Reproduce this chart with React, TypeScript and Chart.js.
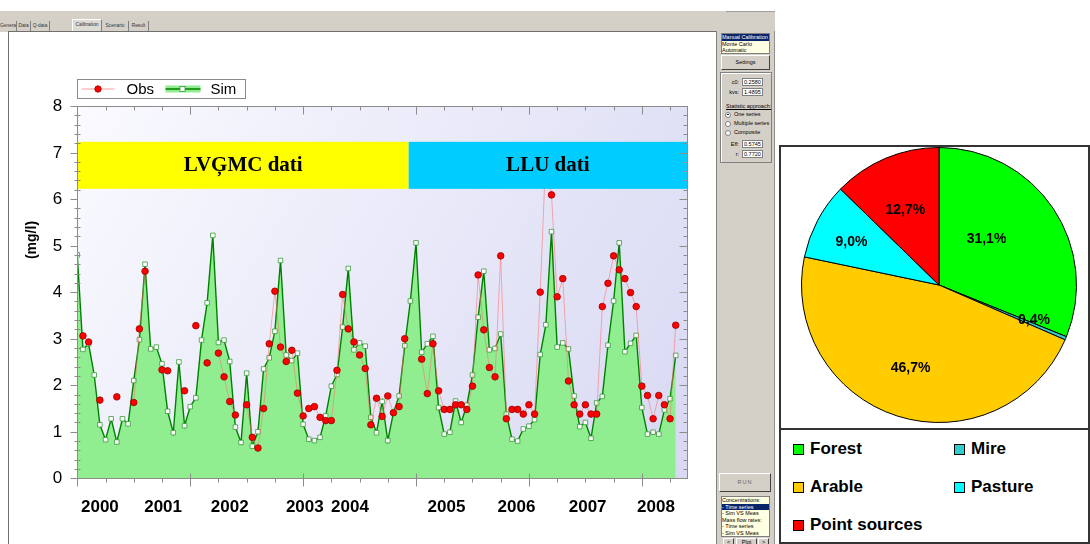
import React, { useEffect, useRef } from 'react';
import { Chart, registerables } from 'chart.js';

Chart.register(...registerables);

// ---------- data ----------
const simValues = [
  4.80, 2.77, 2.89, 2.22, 1.15, 0.83, 1.28, 0.78, 1.28, 1.17,
  2.10, 2.98, 4.60, 2.78, 2.82, 2.46, 1.44, 0.98, 2.50, 1.13,
  1.54, 1.73, 2.97, 3.77, 5.22, 2.92, 2.97, 2.51, 1.10, 0.77,
  2.26, 0.69, 1.00, 2.35, 2.59, 3.16, 4.68, 2.65, 2.53, 2.69,
  1.16, 0.84, 0.81, 0.88, 1.34, 1.98, 2.23, 3.25, 4.51, 2.76,
  2.91, 2.84, 1.31, 0.98, 1.65, 0.81, 1.41, 1.77, 2.85, 3.81,
  5.06, 2.71, 2.89, 3.05, 1.52, 0.95, 0.99, 1.66, 1.20, 1.57,
  2.22, 3.46, 4.45, 2.76, 2.79, 3.10, 1.38, 0.84, 0.80, 1.06,
  1.12, 1.26, 2.66, 3.30, 5.30, 2.82, 2.91, 2.78, 1.77, 1.11,
  1.20, 0.86, 1.62, 1.76, 2.86, 3.81, 5.06, 2.72, 2.90, 3.07,
  1.52, 0.95, 0.99, 0.95, 1.47, 1.71, 2.64,
];

const obsValues: (number | null)[] = [
  null, 3.06, 2.93, null, 1.68, null, null, 1.75, null, null,
  1.63, 3.21, 4.45, null, null, 2.33, 2.31, null, null, 1.88,
  null, 3.28, null, 2.48, null, 2.69, 2.18, 1.65, 1.36, null,
  1.58, 0.88, 0.65, 1.50, 2.89, 4.02, 2.82, 2.51, 2.75, 1.83,
  1.34, 1.50, 1.54, 1.31, 1.24, 1.24, 2.32, 3.95, 3.21, 2.93,
  2.65, 2.36, 1.15, 1.72, 1.33, 1.77, 1.41, 1.54, 3.00, null,
  null, 2.56, 1.82, 2.89, 1.88, 1.48, 1.48, 1.58, 1.58, 1.48,
  1.98, 4.37, 3.19, 2.38, 2.18, 4.78, 1.28, 1.48, 1.48, 1.38,
  1.58, 1.38, 4.00, 7.00, 6.09, 3.90, 4.29, 2.09, 1.58, 1.38,
  1.58, 1.38, 1.38, 3.69, 4.19, 4.78, 4.48, 4.29, 3.99, 3.69,
  1.98, 1.78, 1.28, 1.78, 1.58, 1.28, 3.29,
];

const monthIndex = simValues.map((_, i) => i);

const yTickLabels = ['0', '1', '2', '3', '4', '5', '6', '7', '8'];
const yearLabels = ['2000', '2001', '2002', '2003', '2004', '2005', '2006', '2007', '2008'];
const yearLabelPos = [4.0, 15.2, 27.0, 40.3, 48.3, 65.4, 77.8, 90.4, 102.5];

const sourceNames = ['LVĢMC dati', 'LLU dati'];
const sourceStart = [0.1, 58.7];
const sourceEnd = [58.7, 108];
const sourceColors = ['#ffff00', '#00ccff'];

const landUse = ['Forest', 'Mire', 'Arable', 'Pasture', 'Point sources'];
const landShare = [31.1, 0.4, 46.7, 9.0, 12.7];
const landColors = ['#00ff00', '#33cccc', '#ffcc00', '#00ffff', '#ff0000'];

// ---------- plugins ----------
const SANS = 'Arial, "Liberation Sans", sans-serif';
const SERIF = '"Times New Roman", "Liberation Serif", serif';

const decorPlugin = {
  id: 'decor',
  beforeDatasetsDraw(chart: any) {
    const { ctx, chartArea: a } = chart;
    const g = ctx.createLinearGradient(a.left, a.top, a.right, a.bottom);
    g.addColorStop(0, '#fafaff');
    g.addColorStop(1, '#d8d8f3');
    ctx.save();
    ctx.fillStyle = g;
    ctx.fillRect(a.left, a.top, a.right - a.left, a.bottom - a.top);
    ctx.restore();
  },
  afterDatasetsDraw(chart: any) {
    const { ctx, chartArea: a } = chart;
    const xs = chart.scales.x;
    const ys = chart.scales.y;
    const p = (v: number) => Math.round(v) + 0.5;
    const line = (x1: number, y1: number, x2: number, y2: number) => {
      ctx.beginPath();
      ctx.moveTo(x1, y1);
      ctx.lineTo(x2, y2);
      ctx.stroke();
    };
    ctx.save();

    // source bands
    const bTop = ys.getPixelForValue(7.23);
    const bBot = ys.getPixelForValue(6.22);
    sourceNames.forEach((name, k) => {
      const x0 = xs.getPixelForValue(sourceStart[k]);
      const x1 = xs.getPixelForValue(sourceEnd[k]);
      ctx.fillStyle = sourceColors[k];
      ctx.fillRect(x0, bTop, x1 - x0, bBot - bTop);
      ctx.fillStyle = '#000';
      ctx.font = `bold 21px ${SERIF}`;
      ctx.textAlign = 'center';
      ctx.textBaseline = 'middle';
      ctx.fillText(name, (x0 + x1) / 2, (bTop + bBot) / 2);
    });

    // frame
    const L = p(a.left), R = p(a.right), T = p(a.top), B = p(a.bottom);
    ctx.strokeStyle = '#8c8c8c';
    ctx.lineWidth = 1;
    ctx.strokeRect(L, T, R - L, B - T);

    // y ticks
    for (let k = 0; k <= 40; k++) {
      const y = p(ys.getPixelForValue(k * 0.2));
      const major = k % 5 === 0;
      if (major) {
        line(L - 7, y, L, y);
        line(R - 8, y, R, y);
      } else {
        line(L - 3, y, L + 3, y);
        line(R - 4, y, R, y);
      }
    }
    // x ticks
    for (let v = 0; v <= 105; v += 5) {
      const x = p(xs.getPixelForValue(v));
      const major = v % 20 === 0;
      if (major) {
        line(x, B - 5, x, B + 8);
        line(x, T, x, T + 8);
      } else {
        line(x, B, x, B + 4);
        line(x, T, x, T + 4);
      }
    }

    // y labels
    ctx.fillStyle = '#000';
    ctx.font = `17px ${SANS}`;
    ctx.textAlign = 'right';
    ctx.textBaseline = 'middle';
    yTickLabels.forEach((lab, i) => {
      ctx.fillText(lab, a.left - 15, ys.getPixelForValue(i) + 0.5);
    });

    // year labels
    ctx.font = `bold 17px ${SANS}`;
    ctx.textAlign = 'center';
    yearLabels.forEach((lab, i) => {
      ctx.fillText(lab, xs.getPixelForValue(yearLabelPos[i]), a.bottom + 29);
    });

    // y title
    ctx.save();
    ctx.translate(a.left - 45, a.top + 134);
    ctx.rotate(-Math.PI / 2);
    ctx.font = `bold 14px ${SANS}`;
    ctx.textAlign = 'center';
    ctx.textBaseline = 'middle';
    ctx.fillText('(mg/l)', 0, 0);
    ctx.restore();

    // legend box
    const lx = Math.round(a.left) + 0.5;
    const ly = Math.round(a.top) - 27 + 0.5;
    ctx.fillStyle = '#ffffff';
    ctx.fillRect(lx, ly, 168, 19);
    ctx.strokeStyle = '#8a8a8a';
    ctx.lineWidth = 1;
    ctx.strokeRect(lx, ly, 168, 19);
    const cy = ly + 9.5;
    const dsObs = chart.data.datasets[0];
    const dsSim = chart.data.datasets[1];
    ctx.strokeStyle = '#ff9c9c';
    line(lx + 4, cy, lx + 37, cy);
    ctx.beginPath();
    ctx.arc(lx + 20.5, cy, 3.2, 0, Math.PI * 2);
    ctx.fillStyle = '#ff0000';
    ctx.fill();
    ctx.strokeStyle = '#990000';
    ctx.lineWidth = 0.8;
    ctx.stroke();
    ctx.fillStyle = '#000';
    ctx.font = `15px ${SANS}`;
    ctx.textAlign = 'left';
    ctx.textBaseline = 'middle';
    ctx.fillText(dsObs.label, lx + 49, cy + 0.5);
    ctx.fillStyle = '#90ee90';
    ctx.fillRect(lx + 88, cy - 3.5, 35, 7);
    ctx.strokeStyle = '#008000';
    ctx.lineWidth = 1.5;
    line(lx + 88, cy, lx + 123, cy);
    ctx.fillStyle = '#ffffff';
    ctx.fillRect(lx + 102.5, cy - 2.5, 5, 5);
    ctx.strokeStyle = '#3a9a3a';
    ctx.lineWidth = 0.8;
    ctx.strokeRect(lx + 102.5, cy - 2.5, 5, 5);
    ctx.fillStyle = '#000';
    ctx.fillText(dsSim.label, lx + 133, cy + 0.5);

    ctx.restore();
  },
};

const pieLabelTweak = [
  { da: -10, rf: 0.48 },
  { da: -2.7, rf: 0.735 },
  { da: 1.2, rf: 0.64 },
  { da: -1.7, rf: 0.71 },
  { da: -1.2, rf: 0.6 },
];

const pieLabelPlugin = {
  id: 'pieLabels',
  afterDatasetsDraw(chart: any) {
    const meta = chart.getDatasetMeta(0);
    const ctx = chart.ctx;
    ctx.save();
    ctx.font = `bold 14px ${SANS}`;
    ctx.fillStyle = '#000';
    ctx.textAlign = 'center';
    ctx.textBaseline = 'middle';
    meta.data.forEach((arc: any, i: number) => {
      const pr = arc.getProps(['x', 'y', 'startAngle', 'endAngle', 'outerRadius'], true);
      const mid = (pr.startAngle + pr.endAngle) / 2 + (pieLabelTweak[i].da * Math.PI) / 180;
      const r = pr.outerRadius * pieLabelTweak[i].rf;
      const txt = landShare[i].toFixed(1).replace('.', ',') + '%';
      ctx.fillText(txt, pr.x + r * Math.cos(mid), pr.y + r * Math.sin(mid));
    });
    ctx.restore();
  },
};

// ---------- small UI helpers ----------
const tiny: React.CSSProperties = {
  position: 'absolute',
  fontFamily: SANS,
  fontSize: '5.5px',
  lineHeight: '6.5px',
  color: '#000',
  whiteSpace: 'nowrap',
};

const tabs = [
  { t: 'General', x: 0, w: 17 },
  { t: 'Data', x: 17, w: 14 },
  { t: 'Q-data', x: 31, w: 19 },
  { t: 'Calibration', x: 72, w: 30, active: true },
  { t: 'Scenario', x: 102, w: 27 },
  { t: 'Result', x: 129, w: 20 },
];

function Input({ top, value }: { top: number; value: string }) {
  return (
    <div
      style={{
        ...tiny,
        left: 742,
        top,
        width: 21,
        height: 8.5,
        background: '#fff',
        border: '1px solid #808080',
        boxSizing: 'border-box',
        paddingLeft: 1,
        lineHeight: '7px',
      }}
    >
      {value}
    </div>
  );
}

function Radio({ top, label, checked }: { top: number; label: string; checked?: boolean }) {
  return (
    <>
      <div
        style={{
          position: 'absolute',
          left: 725,
          top,
          width: 6,
          height: 6,
          borderRadius: '50%',
          background: '#fff',
          border: '1px solid #808080',
          boxSizing: 'border-box',
        }}
      >
        {checked ? (
          <div style={{ position: 'absolute', left: 1.2, top: 1.2, width: 1.8, height: 1.8, borderRadius: '50%', background: '#000' }} />
        ) : null}
      </div>
      <div style={{ ...tiny, left: 734, top: top - 0.5 }}>{label}</div>
    </>
  );
}

const btn: React.CSSProperties = {
  position: 'absolute',
  background: '#d4d0c8',
  borderTop: '1px solid #ffffff',
  borderLeft: '1px solid #ffffff',
  borderRight: '1px solid #404040',
  borderBottom: '1px solid #404040',
  boxSizing: 'border-box',
  fontFamily: SANS,
  fontSize: '5.5px',
  textAlign: 'center',
  color: '#000',
};

export default function App() {
  const mainRef = useRef<HTMLCanvasElement>(null);
  const pieRef = useRef<HTMLCanvasElement>(null);

  useEffect(() => {
    const main = new Chart(mainRef.current as HTMLCanvasElement, {
      type: 'line',
      data: {
        datasets: [
          {
            label: 'Obs',
            data: monthIndex.map((i) => ({ x: i, y: obsValues[i] })) as any,
            borderColor: 'rgba(255,110,110,0.55)',
            borderWidth: 1,
            pointRadius: 3.3,
            pointBackgroundColor: '#ff0000',
            pointBorderColor: '#990000',
            pointBorderWidth: 0.8,
            fill: false,
            spanGaps: false,
            order: 0,
          },
          {
            label: 'Sim',
            data: monthIndex.map((i) => ({ x: i, y: simValues[i] })),
            borderColor: '#008000',
            borderWidth: 1.4,
            backgroundColor: '#90ee90',
            fill: 'origin',
            pointStyle: 'rect',
            pointRadius: 3.2,
            pointBackgroundColor: '#ffffff',
            pointBorderColor: '#3a9a3a',
            pointBorderWidth: 0.8,
            order: 1,
          },
        ],
      },
      options: {
        animation: false,
        responsive: false,
        devicePixelRatio: 1,
        layout: { padding: { left: 68.3, right: 28, top: 74, bottom: 65.7 } },
        elements: { line: { tension: 0 } },
        scales: {
          x: { type: 'linear', min: 0, max: 108, display: false },
          y: { type: 'linear', min: 0, max: 8, display: false },
        },
        plugins: { legend: { display: false }, tooltip: { enabled: false } },
      },
      plugins: [decorPlugin],
    });

    const pie = new Chart(pieRef.current as HTMLCanvasElement, {
      type: 'pie',
      data: {
        labels: landUse,
        datasets: [
          {
            data: landShare,
            backgroundColor: landColors,
            borderColor: '#000000',
            borderWidth: 1,
          },
        ],
      },
      options: {
        animation: false,
        responsive: false,
        devicePixelRatio: 1,
        layout: { padding: 0 },
        plugins: { legend: { display: false }, tooltip: { enabled: false } },
      },
      plugins: [pieLabelPlugin],
    });

    return () => {
      main.destroy();
      pie.destroy();
    };
  }, []);

  const legendPos = [
    { x: 793, y: 449 },
    { x: 954, y: 449 },
    { x: 793, y: 487 },
    { x: 954, y: 487 },
    { x: 793, y: 525 },
  ];

  return (
    <div
      style={{
        position: 'absolute',
        left: 0,
        top: 0,
        width: 1090,
        height: 544,
        background: '#ffffff',
        overflow: 'hidden',
        fontFamily: SANS,
      }}
    >
      {/* window bar with tabs */}
      <div style={{ position: 'absolute', left: 0, top: 11, width: 775, height: 21, background: '#d4d0c8' }} />
      <div style={{ position: 'absolute', left: 726, top: 11, width: 49, height: 1, background: '#a0a0a0' }} />
      {tabs.map((tb) => (
        <div
          key={tb.t}
          style={{
            ...tiny,
            fontSize: '4.8px',
            left: tb.x,
            top: tb.active ? 19 : 20.5,
            width: tb.w,
            height: tb.active ? 12 : 10.5,
            textAlign: 'center',
            lineHeight: tb.active ? '10px' : '9px',
            color: '#333',
            background: tb.active ? '#dedbd4' : 'transparent',
            borderRight: '1px solid #808080',
            borderLeft: tb.active ? '1px solid #ffffff' : 'none',
            borderTop: tb.active ? '1px solid #ffffff' : 'none',
            boxSizing: 'border-box',
            overflow: 'hidden',
          }}
        >
          {tb.t}
        </div>
      ))}

      {/* main white panel */}
      <div
        style={{
          position: 'absolute',
          left: 8,
          top: 31,
          width: 709,
          height: 513,
          background: '#ffffff',
          borderLeft: '1px solid #707070',
          borderTop: '1px solid #707070',
          boxSizing: 'border-box',
        }}
      />
      <canvas ref={mainRef} width={706} height={512} style={{ position: 'absolute', left: 9, top: 32 }} />

      {/* right control panel */}
      <div
        style={{
          position: 'absolute',
          left: 716,
          top: 31,
          width: 59,
          height: 513,
          background: '#d4d0c8',
          borderLeft: '1px solid #808080',
          borderRight: '1px solid #909090',
          boxSizing: 'border-box',
        }}
      />
      <div
        style={{
          position: 'absolute',
          left: 721,
          top: 33,
          width: 49,
          height: 21,
          background: '#ffffe1',
          border: '1px solid #808080',
          boxSizing: 'border-box',
        }}
      />
      <div style={{ ...tiny, left: 722, top: 34, width: 47, background: '#0a246a', color: '#fff' }}>Manual Calibration</div>
      <div style={{ ...tiny, left: 722, top: 40.5 }}>Monte Carlo</div>
      <div style={{ ...tiny, left: 722, top: 47 }}>Automatic</div>
      <div style={{ ...btn, left: 721, top: 55, width: 49, height: 15, lineHeight: '13px' }}>Settings</div>

      <div
        style={{
          position: 'absolute',
          left: 720,
          top: 72,
          width: 52,
          height: 91,
          border: '1px solid #808080',
          boxShadow: 'inset 1px 1px 0 #ffffff',
          boxSizing: 'border-box',
        }}
      />
      <div style={{ ...tiny, left: 722, top: 78.5, width: 17, textAlign: 'right' }}>c0:</div>
      <Input top={77.5} value="0.2580" />
      <div style={{ ...tiny, left: 722, top: 88.5, width: 17, textAlign: 'right' }}>kvs:</div>
      <Input top={87.5} value="1.4895" />
      <div style={{ ...tiny, left: 726, top: 103, textDecoration: 'underline' }}>Statistic approach:</div>
      <Radio top={111.5} label="One series" checked />
      <Radio top={120.5} label="Multiple series" />
      <Radio top={129.5} label="Composite" />
      <div style={{ ...tiny, left: 722, top: 140.5, width: 17, textAlign: 'right' }}>Eff:</div>
      <Input top={139.5} value="0.5745" />
      <div style={{ ...tiny, left: 722, top: 150.5, width: 17, textAlign: 'right' }}>r:</div>
      <Input top={149.5} value="0.7720" />

      <div style={{ ...btn, left: 719, top: 473, width: 52, height: 19, lineHeight: '17px', color: '#666', letterSpacing: '1px' }}>RUN</div>
      <div
        style={{
          position: 'absolute',
          left: 721,
          top: 496,
          width: 49,
          height: 41,
          background: '#ffffe1',
          border: '1px solid #808080',
          boxSizing: 'border-box',
        }}
      />
      <div style={{ ...tiny, left: 722, top: 497 }}>Concentrations:</div>
      <div style={{ ...tiny, left: 722, top: 503.5, width: 47, background: '#0a246a', color: '#fff' }}>- Time series</div>
      <div style={{ ...tiny, left: 722, top: 510 }}>- Sim VS Meas</div>
      <div style={{ ...tiny, left: 722, top: 516.5 }}>Mass flow rates:</div>
      <div style={{ ...tiny, left: 722, top: 523 }}>- Time series</div>
      <div style={{ ...tiny, left: 722, top: 529.5 }}>- Sim VS Meas</div>
      <div style={{ ...btn, left: 723, top: 538, width: 11, height: 9, lineHeight: '7px' }}>&lt;</div>
      <div style={{ ...btn, left: 736, top: 538, width: 21, height: 9, lineHeight: '7px' }}>Plot</div>
      <div style={{ ...btn, left: 758, top: 538, width: 11, height: 9, lineHeight: '7px' }}>&gt;</div>

      {/* pie box */}
      <div
        style={{
          position: 'absolute',
          left: 779,
          top: 145,
          width: 311,
          height: 399,
          border: '2px solid #333333',
          boxSizing: 'border-box',
          background: '#ffffff',
        }}
      />
      <div style={{ position: 'absolute', left: 779, top: 428, width: 311, height: 2, background: '#333333' }} />
      <canvas ref={pieRef} width={276} height={276} style={{ position: 'absolute', left: 801, top: 147 }} />
      {landUse.map((name, i) => (
        <React.Fragment key={name}>
          <div
            style={{
              position: 'absolute',
              left: legendPos[i].x,
              top: legendPos[i].y - 5.5,
              width: 11,
              height: 11,
              background: landColors[i],
              border: '1px solid #000',
              boxSizing: 'border-box',
            }}
          />
          <div
            style={{
              position: 'absolute',
              left: legendPos[i].x + 17,
              top: legendPos[i].y - 10,
              fontFamily: SANS,
              fontWeight: 'bold',
              fontSize: '17px',
              lineHeight: '20px',
              color: '#000',
              whiteSpace: 'nowrap',
            }}
          >
            {name}
          </div>
        </React.Fragment>
      ))}
    </div>
  );
}
